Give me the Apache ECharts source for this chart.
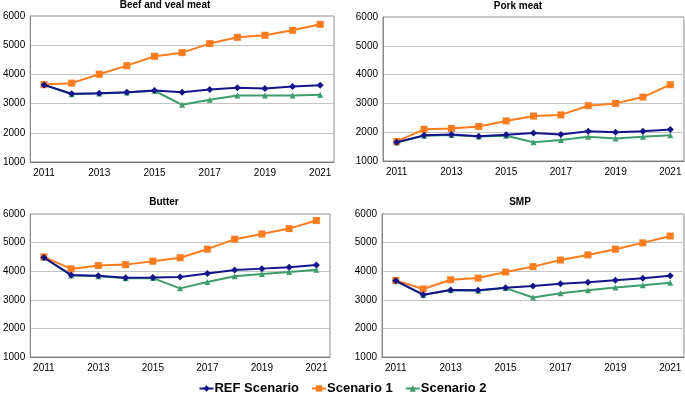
<!DOCTYPE html>
<html>
<head>
<meta charset="utf-8">
<script src="https://cdn.jsdelivr.net/npm/echarts@6/dist/echarts.min.js"></script>
<style>html,body{margin:0;padding:0;background:#fff}#c{width:685px;height:400px}</style>
</head>
<body>
<div id="c"></div>
<script>
const years = ['2011','2012','2013','2014','2015','2016','2017','2018','2019','2020','2021'];
const seriesNames = ['REF Scenario','Scenario 1','Scenario 2'];
const panelTitles = ['Beef and veal meat','Pork meat','Butter','SMP'];
const yTicks = [1000, 6000, 1000]; // min, max, interval

const beefRef = [3640,3335,3355,3390,3450,3390,3480,3540,3520,3585,3630];
const beefS1  = [3650,3700,4005,4300,4620,4745,5055,5270,5340,5510,5715];
const beefS2  = [3640,3320,3350,3380,3440,2960,3130,3280,3280,3280,3300];

const porkRef = [1650,1890,1920,1860,1910,1970,1920,2030,2000,2030,2090];
const porkS1  = [1680,2100,2130,2200,2390,2560,2600,2920,3000,3220,3650];
const porkS2  = [1640,1880,1900,1850,1880,1650,1730,1840,1780,1840,1890];

const butterRef = [4480,3870,3840,3770,3780,3800,3920,4040,4090,4140,4220];
const butterS1  = [4500,4080,4200,4230,4350,4470,4770,5120,5300,5490,5770];
const butterS2  = [4470,3850,3820,3750,3760,3400,3620,3820,3900,3970,4050];

const smpRef = [3670,3180,3340,3330,3420,3480,3560,3610,3680,3750,3840];
const smpS1  = [3680,3380,3700,3760,3970,4160,4390,4570,4770,4990,5230];
const smpS2  = [3650,3170,3340,3320,3410,3080,3230,3330,3430,3510,3600];

const panelData = [
  [beefRef, beefS1, beefS2],
  [porkRef, porkS1, porkS2],
  [butterRef, butterS1, butterS2],
  [smpRef, smpS1, smpS2]
];

const colors = ['#14148c', '#ff7b1c', '#3d9e6c'];
const symbols = ['diamond', 'rect', 'triangle'];
const symbolSizes = [7, 7, 6];

const grids = [
  {left: 29, right: 351, top: 16, bottom: 238},
  {left: 383, right: 1, top: 17, bottom: 239},
  {left: 28, right: 355, top: 214, bottom: 43},
  {left: 382, right: 1, top: 214, bottom: 43}
];
const titlePos = [[165, 0], [518, 1], [164, 197], [520, 197]];

const font = 'Liberation Sans, Arial, sans-serif';

const option = {
  backgroundColor: '#fff',
  animation: false,
  title: panelTitles.map((t, i) => ({
    text: t, left: titlePos[i][0], top: titlePos[i][1], textAlign: 'center', padding: 0,
    textStyle: {fontSize: 10, fontWeight: 'bold', color: '#000', fontFamily: font}
  })),
  legend: {
    data: seriesNames, bottom: 0, left: 'center', itemWidth: 14, itemHeight: 8, itemGap: 12,
    textStyle: {fontSize: 13, fontWeight: 'bold', color: '#000', fontFamily: font, padding: [0,0,0,-4]}
  },
  grid: grids.map(g => Object.assign({show: true, borderColor: '#8c8c8c', borderWidth: 1, backgroundColor: 'transparent'}, g)),
  xAxis: grids.map((g, i) => ({
    type: 'category', gridIndex: i, data: years, boundaryGap: true,
    axisLine: {lineStyle: {color: '#777', width: 1}},
    axisTick: {interval: 0, length: 4, lineStyle: {color: '#777'}},
    axisLabel: {interval: 1, fontSize: 10, color: '#000', fontFamily: font, margin: 6}
  })),
  yAxis: grids.map((g, i) => ({
    type: 'value', gridIndex: i, min: yTicks[0], max: yTicks[1], interval: yTicks[2],
    axisLine: {show: true, lineStyle: {color: '#888'}},
    axisTick: {show: false},
    splitLine: {lineStyle: {color: '#c4c4c4', width: 1}},
    axisLabel: {fontSize: 10, color: '#000', fontFamily: font, margin: 5, formatter: v => String(v)}
  })),
  series: []
};

panelData.forEach((arrs, p) => {
  arrs.forEach((arr, s) => {
    option.series.push({
      type: 'line', name: seriesNames[s], xAxisIndex: p, yAxisIndex: p, data: arr,
      symbol: symbols[s], symbolSize: symbolSizes[s], showSymbol: true,
      lineStyle: {color: colors[s], width: 2}, itemStyle: {color: colors[s]},
      z: 3 - s
    });
  });
});

const chart = echarts.init(document.getElementById('c'), null, {renderer: 'canvas'});
chart.setOption(option);
</script>
</body>
</html>
